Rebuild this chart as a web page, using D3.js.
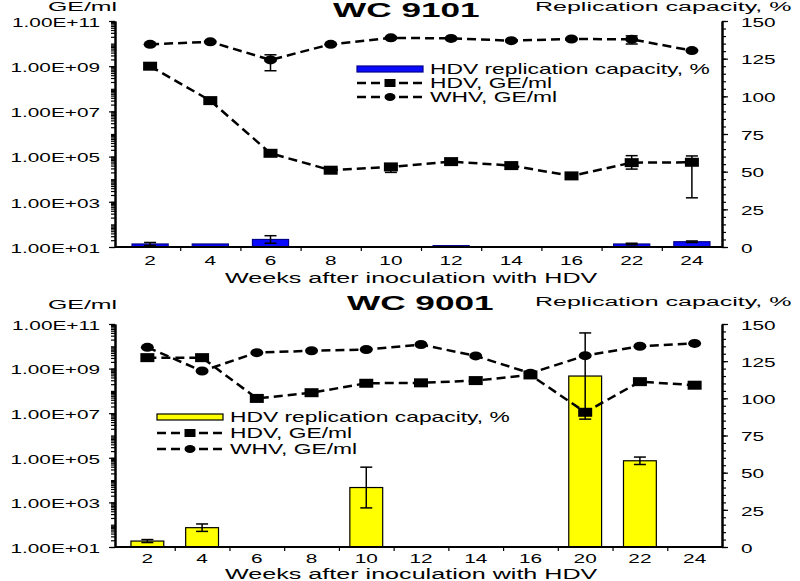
<!DOCTYPE html>
<html><head><meta charset="utf-8">
<script src="https://cdn.jsdelivr.net/npm/d3@7"></script>
<style>
body{margin:0;background:#fff}
svg{display:block}
text{font-family:"Liberation Sans",Arial,sans-serif;fill:#000}
</style>
</head><body>
<svg id="chart" width="800" height="581"></svg>
<script>
// ---------- DATA ----------
const weeksTop = ["2","4","6","8","10","12","14","16","22","24"];
const hdvTop = [1e9, 3e7, 1.4e5, 2.5e4, 3.5e4, 6e4, 4e4, 1.4e4, 5.4e4, 5.6e4];
const hdvTopLow = [null, null, null, null, 2.0e4, null, null, null, 2.8e4, 1.5e3];
const hdvTopHigh = [null, null, null, null, 4.5e4, null, null, null, 1.1e5, 1.07e5];
const whvTop = [9.3e9, 1.2e10, 1.9e9, 9.3e9, 1.8e10, 1.7e10, 1.35e10, 1.6e10, 1.55e10, 4.9e9];
const whvTopLow = [null, null, 6.3e8, null, null, null, null, null, 9.6e9, null];
const whvTopHigh = [null, null, 3.2e9, null, null, null, null, null, 2.2e10, null];
const capTop = [2, 2, 5, null, null, 0.9, null, null, 2, 3.5];
const capTopErr = [1, 0, 2.5, null, null, 0, null, null, 0.5, 0.5];

const weeksBottom = ["2","4","6","8","10","12","14","16","20","22","24"];
const hdvBottom = [3.1e9, 3.1e9, 4.6e7, 8.3e7, 2.2e8, 2.3e8, 2.9e8, 5.2e8, 1.1e7, 2.6e8, 1.8e8];
const whvBottom = [9e9, 7.8e8, 5.2e9, 6.3e9, 7.2e9, 1.2e10, 3.7e9, 6.2e8, 3.8e9, 1e10, 1.35e10];
const capBottom = [4, 13, null, null, 40, null, null, null, 115, 58, null];
const capBottomErr = [1, 2.5, null, null, 13.7, null, null, null, 29, 2.5, null];

const leftTicks = [1e1, 1e3, 1e5, 1e7, 1e9, 1e11];
const rightTicks = [0, 25, 50, 75, 100, 125, 150];
const legendLabels = ["HDV replication capacity, %", "HDV, GE/ml", "WHV, GE/ml"];
const xTitle = "Weeks after inoculation with HDV";
const yLeftTitle = "GE/ml";
const yRightTitle = "Replication capacity, %";

// ---------- DRAWING ----------
const svg = d3.select("#chart");
const fmtE = v => "1.00E+" + String(Math.round(Math.log10(v))).padStart(2, "0");

function txt(g, x, y, s, size, opts = {}) {
  return g.append("text").attr("x", x).attr("y", y).text(s)
    .attr("font-size", size)
    .attr("font-weight", opts.bold ? "bold" : "normal")
    .attr("text-anchor", opts.anchor || "start")
    .attr("data-sx", opts.sx || 1.63);
}

function marker(g, type, cx, cy, w, h) {
  if (type === "sq") {
    g.append("rect").attr("x", cx - w / 2).attr("y", cy - h / 2).attr("width", w).attr("height", h).attr("fill", "#000");
  } else {
    g.append("ellipse").attr("cx", cx).attr("cy", cy).attr("rx", w / 2).attr("ry", h / 2).attr("fill", "#000");
  }
}

function panel(o) {
  const g = svg.append("g");
  const n = o.weeks.length;
  const x = d3.scaleBand().domain(o.weeks).range([120, 722]).paddingInner(0.4).paddingOuter(0.2);
  const cx = w => x(w) + x.bandwidth() / 2;
  const yL = d3.scaleLog().domain([1e1, 1e11]).range([o.y1, o.y0]);
  const yR = d3.scaleLinear().domain([0, 150]).range([o.y1, o.y0]);

  // bars
  o.cap.forEach((v, i) => {
    if (v == null) return;
    g.append("rect").attr("x", x(o.weeks[i])).attr("width", x.bandwidth())
      .attr("y", yR(v)).attr("height", yR(0) - yR(v))
      .attr("fill", o.barColor).attr("stroke", o.barStroke).attr("stroke-width", 1.2);
  });
  // bar error bars
  o.cap.forEach((v, i) => {
    const e = o.capErr[i];
    if (v == null || !e) return;
    const c = cx(o.weeks[i]);
    g.append("line").attr("x1", c).attr("x2", c).attr("y1", yR(v - e)).attr("y2", yR(v + e)).attr("stroke", "#000").attr("stroke-width", 1.5);
    [v - e, v + e].forEach(t => g.append("line").attr("x1", c - 6).attr("x2", c + 6).attr("y1", yR(t)).attr("y2", yR(t)).attr("stroke", "#000").attr("stroke-width", 1.5));
  });

  // lines
  const line = d3.line().x((d, i) => cx(o.weeks[i])).y(d => yL(d));
  [o.hdv, o.whv].forEach(s => {
    g.append("path").datum(s).attr("d", line).attr("fill", "none").attr("stroke", "#000")
      .attr("stroke-width", 2.5).attr("stroke-dasharray", "9,5");
  });
  // line error bars
  [[o.hdvLow, o.hdvHigh], [o.whvLow, o.whvHigh]].forEach(([lo, hi]) => {
    if (!lo) return;
    lo.forEach((l, i) => {
      if (l == null) return;
      const c = cx(o.weeks[i]);
      g.append("line").attr("x1", c).attr("x2", c).attr("y1", yL(l)).attr("y2", yL(hi[i])).attr("stroke", "#000").attr("stroke-width", 1.5);
      [l, hi[i]].forEach(t => g.append("line").attr("x1", c - 6).attr("x2", c + 6).attr("y1", yL(t)).attr("y2", yL(t)).attr("stroke", "#000").attr("stroke-width", 1.5));
    });
  });
  // markers
  o.hdv.forEach((v, i) => marker(g, "sq", cx(o.weeks[i]), yL(v), 14, 9));
  o.whv.forEach((v, i) => marker(g, "ci", cx(o.weeks[i]), yL(v), 13, 9));

  // left axis
  const minor = [];
  for (let e = 1; e < 11; e++) for (let k = 1; k < 10; k++) minor.push(k * Math.pow(10, e));
  minor.push(1e11);
  const la = g.append("g").attr("transform", "translate(115,0)");
  la.append("g").call(d3.axisLeft(yL).tickValues(minor).tickFormat("").tickSize(4).tickSizeOuter(0));
  la.append("g").attr("class", "major").call(d3.axisLeft(yL).tickValues(leftTicks).tickFormat(fmtE).tickSize(6).tickPadding(9).tickSizeOuter(0));
  // right axis
  const ra = g.append("g").attr("transform", "translate(722,0)");
  ra.append("g").call(d3.axisRight(yR).tickValues(d3.range(0, 151, 5)).tickFormat("").tickSize(4).tickSizeOuter(0));
  ra.append("g").attr("class", "major").call(d3.axisRight(yR).tickValues(rightTicks).tickSize(6).tickPadding(13).tickSizeOuter(0));
  // x axis
  const xa = g.append("g").attr("transform", `translate(0,${o.y1})`);
  const xi = d3.scaleLinear().domain([0, n]).range([120, 722]);
  xa.append("g").call(d3.axisBottom(xi).tickValues(d3.range(1, n)).tickFormat("").tickSize(4).tickSizeOuter(0))
    .select(".domain").remove();
  xa.append("g").call(d3.axisBottom(x).tickSize(0).tickPadding(o.xPad)).select(".domain").remove();
  xa.append("line").attr("x1", 115).attr("x2", 722).attr("y1", 0).attr("y2", 0).attr("stroke", "#000").attr("stroke-width", 2);

  g.selectAll(".domain").attr("stroke-width", 2);
  g.selectAll(".tick line").attr("stroke-width", 1.2);
  g.selectAll(".tick text").attr("font-size", 13).attr("font-family", null).attr("data-sx", 1.6);
  g.selectAll(".major .tick text").attr("dy", "0.4em");
  g.selectAll("g").attr("font-family", null);

  // titles
  txt(g, 48, o.geY, yLeftTitle, 12.5, { sx: 1.99 });
  txt(g, o.titleX, o.titleY, o.title, 20, { bold: true, sx: 1.76 });
  txt(g, 535, o.repY, yRightTitle, 12.5, { sx: 2.0 });
  txt(g, 225, o.xTitleY, xTitle, 15, { sx: 1.676 });

  // legend
  const L = o.legend;
  g.append("rect").attr("x", L.x).attr("y", L.rows[0] - 3).attr("width", 66).attr("height", 6)
    .attr("fill", o.barColor).attr("stroke", o.barStroke).attr("stroke-width", 1.2);
  [1, 2].forEach(k => {
    g.append("line").attr("x1", L.x).attr("x2", L.x + 66).attr("y1", L.rows[k]).attr("y2", L.rows[k])
      .attr("stroke", "#000").attr("stroke-width", 2.5).attr("stroke-dasharray", "9,5");
    marker(g, k === 1 ? "sq" : "ci", L.x + 33, L.rows[k], 11, 8);
  });
  legendLabels.forEach((s, k) => txt(g, L.x + 73, L.rows[k] + 5, s, 14, { sx: 1.63 }));
}

panel({
  weeks: weeksTop, hdv: hdvTop, whv: whvTop,
  hdvLow: hdvTopLow, hdvHigh: hdvTopHigh, whvLow: whvTopLow, whvHigh: whvTopHigh,
  cap: capTop, capErr: capTopErr,
  y0: 21, y1: 247, xPad: 9,
  barColor: "#0a0aff", barStroke: "#00008a",
  title: "WC 9101", titleX: 333, titleY: 17, geY: 11.5, repY: 11.5, xTitleY: 283,
  legend: { x: 357, rows: [69, 83, 97] }
});
panel({
  weeks: weeksBottom, hdv: hdvBottom, whv: whvBottom,
  cap: capBottom, capErr: capBottomErr,
  y0: 324, y1: 547, xPad: 7,
  barColor: "#ffff00", barStroke: "#000",
  title: "WC 9001", titleX: 347, titleY: 310, geY: 309, repY: 306, xTitleY: 579,
  legend: { x: 157, rows: [417, 433, 449] }
});

// horizontal stretch of all text (reference text is widened)
svg.selectAll("text").each(function () {
  const sx = +this.getAttribute("data-sx") || 1.63;
  const ax = +(this.getAttribute("x") || 0);
  d3.select(this).attr("transform", `translate(${ax},0) scale(${sx},1) translate(${-ax},0)`);
});
</script>
</body></html>
